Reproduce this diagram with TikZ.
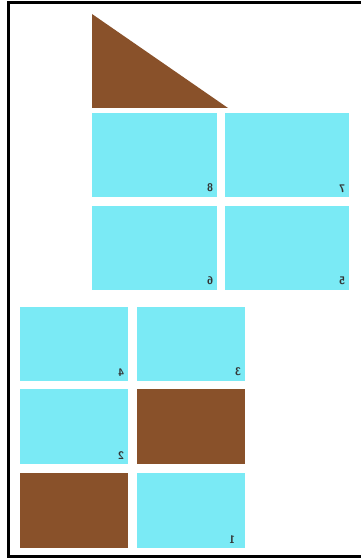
\documentclass[tikz,border=0pt]{standalone}
\usepackage{graphicx}
\definecolor{tile}{RGB}{122,234,245}
\definecolor{soil}{RGB}{137,81,42}
\begin{document}
\begin{tikzpicture}[x=1pt,y=-1pt,
  cbox/.style={fill=tile,draw=none,inner sep=0,anchor=north west},
  bbox/.style={fill=soil,draw=none,inner sep=0,anchor=north west},
  big/.style={minimum width=125pt,minimum height=84pt},
  small/.style={minimum width=108pt,minimum height=75pt},
  lab/.style={anchor=south east,inner sep=0,xshift=-4pt,yshift=5pt,font=\fontsize{11}{11}\selectfont\sffamily\bfseries,text=black!80}]
\useasboundingbox (0,0) rectangle (361,559);
\fill[white] (0,0) rectangle (361,559);
% frame
\draw[line width=3pt] (361,3) -- (8.5,3) -- (8.5,556.5) -- (361,556.5);
% triangle
\fill[soil] (92,14) -- (92,108) -- (228,108) -- cycle;
% upper block
\node[cbox,big] (r8) at (92,113) {};
\node[cbox,big,minimum width=124pt] (r7) at (225,113) {};
\node[cbox,big] (r6) at (92,206) {};
\node[cbox,big,minimum width=124pt] (r5) at (225,206) {};
% lower block
\node[cbox,small,minimum height=74pt] (r4) at (20,307) {};
\node[cbox,small,minimum height=74pt] (r3) at (137,307) {};
\node[cbox,small] (r2) at (20,389) {};
\node[bbox,small] (b1) at (137,389) {};
\node[bbox,small] (b2) at (20,473) {};
\node[cbox,small] (r1) at (137,473) {};
% labels
\node[lab] (l8) at (r8.south east) {\reflectbox{8}};
\node[lab] (l7) at (r7.south east) {\reflectbox{7}};
\node[lab] (l6) at (r6.south east) {\reflectbox{6}};
\node[lab] (l5) at (r5.south east) {\reflectbox{5}};
\node[lab] (l4) at (r4.south east) {\reflectbox{4}};
\node[lab] (l3) at (r3.south east) {\reflectbox{3}};
\node[lab] (l2) at (r2.south east) {\reflectbox{2}};
\node[lab,xshift=-6pt] (l1) at (r1.south east) {\reflectbox{1}};
\end{tikzpicture}
\end{document}
